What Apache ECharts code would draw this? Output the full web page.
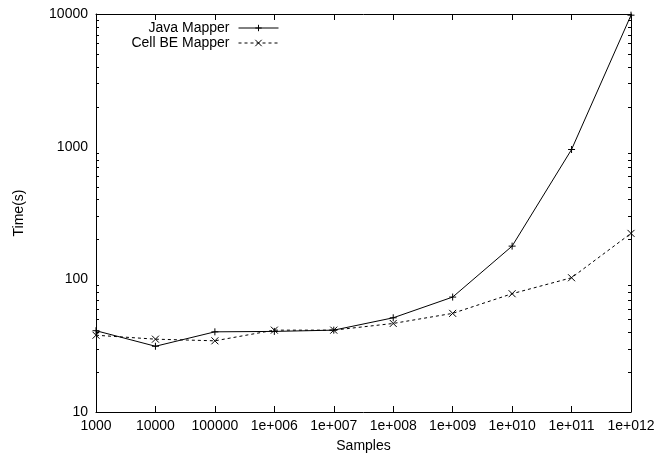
<!DOCTYPE html>
<html>
<head>
<meta charset="utf-8">
<script src="https://cdn.jsdelivr.net/npm/echarts@6/dist/echarts.min.js"></script>
<style>html,body{margin:0;padding:0;background:#fff;}#c{width:671px;height:458px;}</style>
</head>
<body>
<div id="c"></div>
<script>
const categories = ['1000','10000','100000','1e+006','1e+007','1e+008','1e+009','1e+010','1e+011','1e+012'];
const javaMapper = [41, 31.3, 40.2, 40.5, 41.4, 51.3, 73.5, 178, 952, 9800];
const cellMapper = [37.9, 35.4, 34.4, 41.4, 41.4, 46.5, 55.4, 77.9, 102.8, 222];
const minorTicks = [20,30,40,50,60,70,80,90,200,300,400,500,600,700,800,900,2000,3000,4000,5000,6000,7000,8000,9000];

const plusPath = 'path://M5,0 L5,10 M0,5 L10,5';
const crossPath = 'path://M0,0 L10,10 M10,0 L0,10';
const font = 'Liberation Sans, Arial, sans-serif';

const chart = echarts.init(document.getElementById('c'));
chart.setOption({
  animation: false,
  backgroundColor: '#fff',
  textStyle: {fontFamily: font, color: '#000'},
  legend: [
    {data: ['Java Mapper'], right: 387, top: 16, align: 'right', itemWidth: 40, itemHeight: 8,
     lineStyle: {width: 1}, itemStyle: {borderWidth: 1},
     textStyle: {fontFamily: font, fontSize: 14, color: '#000', padding: [0, 4, 0, 0]}},
    {data: ['Cell BE Mapper'], right: 387, top: 31, align: 'right', itemWidth: 40, itemHeight: 8,
     lineStyle: {width: 1}, itemStyle: {borderWidth: 1},
     textStyle: {fontFamily: font, fontSize: 14, color: '#000', padding: [0, 4, 0, 0]}}
  ],
  grid: {left: 96, right: 40, top: 14, bottom: 46, containLabel: false},
  xAxis: [
    {type: 'category', data: categories, boundaryGap: false, position: 'bottom',
     name: 'Samples', nameLocation: 'middle', nameGap: 27,
     nameTextStyle: {fontFamily: font, fontSize: 14, color: '#000'},
     axisLine: {onZero: false, lineStyle: {color: '#000', width: 1}},
     axisTick: {inside: true, length: 6, interval: 0, lineStyle: {color: '#000'}},
     axisLabel: {fontFamily: font, fontSize: 14, color: '#000', margin: 7, interval: 0, hideOverlap: false},
     splitLine: {show: false}},
    {type: 'category', data: categories, boundaryGap: false, position: 'top',
     axisLine: {onZero: false, lineStyle: {color: '#000', width: 1}},
     axisTick: {inside: true, length: 6, interval: 0, lineStyle: {color: '#000'}},
     axisLabel: {show: false}, splitLine: {show: false}}
  ],
  yAxis: [
    {type: 'log', logBase: 10, min: 10, max: 10000, position: 'left',
     name: 'Time(s)', nameLocation: 'middle', nameGap: 70, nameRotate: 90,
     nameTextStyle: {fontFamily: font, fontSize: 14, color: '#000'},
     axisLine: {show: true, onZero: false, lineStyle: {color: '#000', width: 1}},
     axisTick: {inside: true, length: 6, lineStyle: {color: '#000'}},
     axisLabel: {fontFamily: font, fontSize: 14, color: '#000', margin: 8, formatter: v => String(v)},
     splitLine: {show: false}},
    {type: 'log', logBase: 10, min: 10, max: 10000, position: 'right',
     axisLine: {show: true, onZero: false, lineStyle: {color: '#000', width: 1}},
     axisTick: {inside: true, length: 6, lineStyle: {color: '#000'}},
     axisLabel: {show: false}, splitLine: {show: false}}
  ],
  series: [
    {name: 'Java Mapper', type: 'line', data: javaMapper, symbol: plusPath, symbolSize: 7,
     showSymbol: true, lineStyle: {color: '#000', width: 1, type: 'solid'},
     itemStyle: {color: 'transparent', borderColor: '#000', borderWidth: 1}, z: 3},
    {name: 'Cell BE Mapper', type: 'line', data: cellMapper, symbol: crossPath, symbolSize: 7,
     showSymbol: true, lineStyle: {color: '#000', width: 1, type: [3, 3]},
     itemStyle: {color: 'transparent', borderColor: '#000', borderWidth: 1}, z: 3},
    {type: 'custom', xAxisIndex: 0, yAxisIndex: 0, clip: false, silent: true,
     data: minorTicks.map(v => [0, v]), encode: {x: 0, y: 1},
     renderItem: function (params, api) {
       const y = Math.round(api.coord([0, api.value(1)])[1]) + 0.5;
       const cs = params.coordSys;
       const xl = cs.x;
       const xr = cs.x + cs.width;
       return {type: 'group', children: [
         {type: 'line', shape: {x1: xl, y1: y, x2: xl + 3, y2: y}, style: {stroke: '#000', lineWidth: 1}},
         {type: 'line', shape: {x1: xr - 3, y1: y, x2: xr, y2: y}, style: {stroke: '#000', lineWidth: 1}}
       ]};
     }, z: 10}
  ]
});
</script>
</body>
</html>
